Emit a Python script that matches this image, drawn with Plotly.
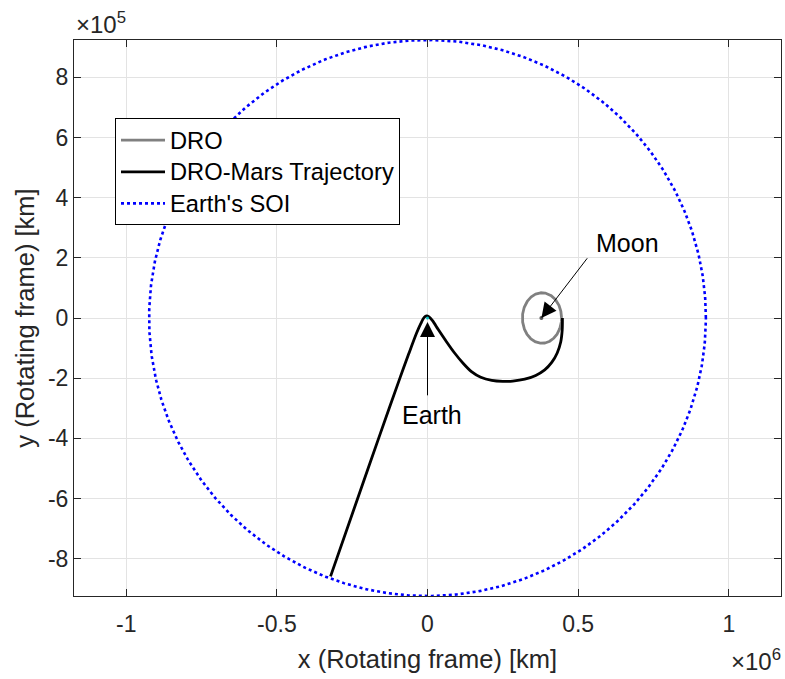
import numpy as np
import plotly.graph_objects as go

# Earth's sphere of influence (km)
soi_radius = 924000.0

# Moon position and DRO extent (km)
moon_x = 378000.0
moon_y = 0.0
dro_center_x = 380000.0
dro_semi_x = 65000.0
dro_semi_y = 84000.0

# DRO-to-Mars departure trajectory (km, rotating frame)
traj_x = [447800, 447100, 442200, 430500, 412300, 389100, 359200, 322700, 282900,
          249800, 213300, 176800, 145900, 118100, 90600, 63000, 35200, 16600,
          4000, -3000, -11000, -22000, -36500, -62600, -89800, -158200, -233300, -321800]
traj_y = [0, -39800, -79700, -116200, -147700, -172600, -190900, -203500, -209800,
          -210800, -207500, -196900, -178300, -150400, -117200, -78700, -37500, -9000,
          4500, 7000, 2000, -18000, -50800, -120000, -194900, -388400, -604000, -858800]

# Tick positions and labels
x_tickvals = [-1e6, -0.5e6, 0, 0.5e6, 1e6]
x_ticktext = ["-1", "-0.5", "0", "0.5", "1"]
y_tickvals = [-8e5, -6e5, -4e5, -2e5, 0, 2e5, 4e5, 6e5, 8e5]
y_ticktext = ["-8", "-6", "-4", "-2", "0", "2", "4", "6", "8"]

theta = np.linspace(0, 2 * np.pi, 721)
soi_x = soi_radius * np.cos(theta)
soi_y = soi_radius * np.sin(theta)
dro_x = dro_center_x + dro_semi_x * np.cos(theta)
dro_y = moon_y + dro_semi_y * np.sin(theta)

FONT = "Liberation Sans, Arial, Helvetica, sans-serif"
AXC = "#262626"


def legend_name(label):
    return "<span style='font-size:23.7px'>" + label + "</span>"


fig = go.Figure()
fig.add_trace(go.Scatter(x=soi_x, y=soi_y, mode="lines", name=legend_name("Earth's SOI"),
                         line=dict(color="#0000ff", width=2.6, dash="3px,3px"),
                         legendrank=3))
fig.add_trace(go.Scatter(x=dro_x, y=dro_y, mode="lines", name=legend_name("DRO"),
                         line=dict(color="#808080", width=2.8), legendrank=1))
fig.add_trace(go.Scatter(x=traj_x, y=traj_y, mode="lines",
                         name=legend_name("DRO-Mars Trajectory"),
                         line=dict(color="#000000", width=2.8, shape="spline", smoothing=0.8),
                         legendrank=2))
fig.add_trace(go.Scatter(x=[moon_x], y=[moon_y], mode="markers", showlegend=False,
                         marker=dict(color="#555555", size=4)))
fig.add_trace(go.Scatter(x=[0], y=[0], mode="markers", showlegend=False,
                         marker=dict(color="#00c0c0", size=3)))

x_half = 1173300.0
fig.update_xaxes(range=[-x_half, x_half], tickvals=x_tickvals, ticktext=x_ticktext,
                 showgrid=True, gridcolor="#e3e3e3", gridwidth=1, zeroline=False,
                 showline=True, linecolor=AXC, linewidth=1, mirror="ticks",
                 ticks="inside", ticklen=7, tickcolor=AXC, ticklabelstandoff=7,
                 tickfont=dict(family=FONT, size=23, color=AXC),
                 title=dict(text="x (Rotating frame) [km]", standoff=14,
                            font=dict(family=FONT, size=25.5, color=AXC)))
fig.update_yaxes(range=[-soi_radius, soi_radius], tickvals=y_tickvals, ticktext=y_ticktext,
                 showgrid=True, gridcolor="#e3e3e3", gridwidth=1, zeroline=False,
                 showline=True, linecolor=AXC, linewidth=1, mirror="ticks",
                 ticks="inside", ticklen=7, tickcolor=AXC,
                 tickfont=dict(family=FONT, size=23, color=AXC),
                 title=dict(text="y (Rotating frame) [km]", standoff=6,
                            font=dict(family=FONT, size=25.5, color=AXC)))

arrow_common = dict(xref="x", yref="y", axref="x", ayref="y", text="", showarrow=True,
                    arrowhead=2, arrowsize=3, arrowwidth=1, arrowcolor="#000000")
fig.add_annotation(x=moon_x, y=moon_y, ax=534000, ay=203500, **arrow_common)
fig.add_annotation(x=0, y=-13000, ax=0, ay=-262000, **arrow_common)
fig.add_annotation(x=664000, y=249000, text="Moon", showarrow=False,
                   font=dict(family=FONT, size=25, color="#000000"))
fig.add_annotation(x=14000, y=-322000, text="Earth", showarrow=False,
                   font=dict(family=FONT, size=25, color="#000000"))

# Axis exponent labels
fig.add_annotation(xref="paper", yref="paper", x=0, y=1, xanchor="left", yanchor="bottom",
                   xshift=0, yshift=0, showarrow=False, text="\u00d710<sup>5</sup>",
                   font=dict(family=FONT, size=24, color=AXC))
fig.add_annotation(xref="paper", yref="paper", x=1, y=0, xanchor="right", yanchor="top",
                   xshift=2, yshift=-47, showarrow=False, text="\u00d710<sup>6</sup>",
                   font=dict(family=FONT, size=24, color=AXC))

fig.update_layout(
    width=785, height=679,
    margin=dict(l=74, r=4, t=40, b=83),
    plot_bgcolor="white", paper_bgcolor="white",
    showlegend=True,
    legend=dict(x=0.058, y=0.859, xanchor="left", yanchor="top",
                bgcolor="white", bordercolor="#000000", borderwidth=1,
                font=dict(family=FONT, size=22, color="#000000"),
                tracegroupgap=0, itemwidth=44),
)

fig.write_html("out.html")
